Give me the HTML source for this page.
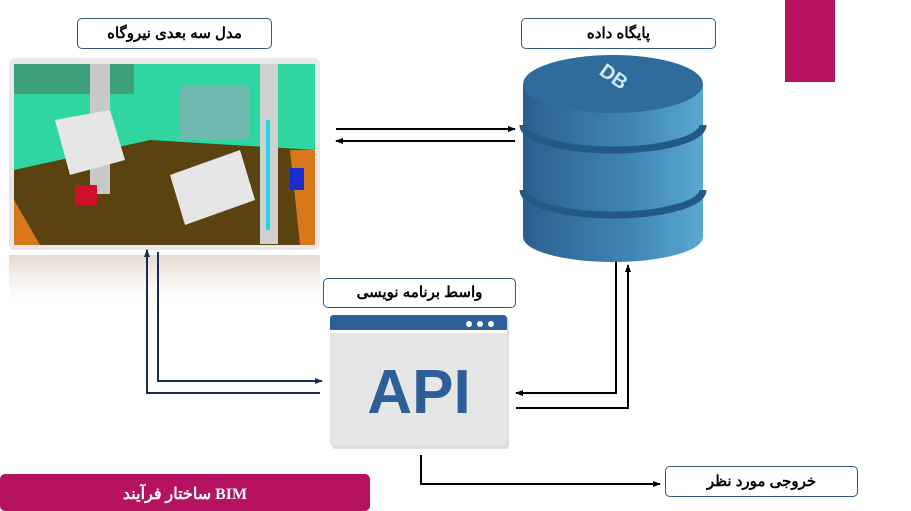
<!DOCTYPE html>
<html><head><meta charset="utf-8"><style>
body{margin:0;width:911px;height:511px;background:#fff;position:relative;overflow:hidden;font-family:"Liberation Sans","Noto Sans CJK SC",sans-serif}
.lbl{position:absolute;border:1px solid #2f5a84;border-radius:5px;background:#fff;text-align:center;font-weight:bold;font-size:15px;color:#000;box-sizing:border-box}
</style></head><body>
<svg width="911" height="511" style="position:absolute;left:0;top:0">
<defs>
<marker id="a" markerWidth="8" markerHeight="8" refX="7" refY="4" orient="auto" markerUnits="userSpaceOnUse"><path d="M0,1 L8,4 L0,7z" fill="#000"/></marker>
<marker id="b" markerWidth="8" markerHeight="8" refX="7" refY="4" orient="auto" markerUnits="userSpaceOnUse"><path d="M0,1 L8,4 L0,7z" fill="#1c2b55"/></marker>
<linearGradient id="cy" x1="0" x2="1"><stop offset="0" stop-color="#2a5f8e"/><stop offset="0.6" stop-color="#3f86b5"/><stop offset="1" stop-color="#5aa8d2"/></linearGradient>
<linearGradient id="rf" x1="0" y1="0" x2="0" y2="1"><stop offset="0" stop-color="#d8c9b8" stop-opacity=".7"/><stop offset="1" stop-color="#fff" stop-opacity="0"/></linearGradient>
</defs>
<rect x="785" y="0" width="50" height="82" fill="#b5135f"/>
<!-- plant image -->
<rect x="9" y="58" width="311" height="192" rx="6" fill="#e8e8e8"/>
<rect x="14" y="64" width="301" height="181" fill="#2fd6a2"/>
<polygon points="14,170 150,140 315,150 315,245 14,245" fill="#5a4310"/>
<polygon points="290,150 315,150 315,245 300,245" fill="#d9781a"/>
<polygon points="14,200 40,245 14,245" fill="#d9781a"/>
<rect x="14" y="64" width="120" height="30" fill="#3ea07a"/>
<rect x="90" y="64" width="20" height="130" fill="#c8c8c8"/>
<rect x="260" y="64" width="18" height="180" fill="#d0d0d0"/>
<rect x="266" y="120" width="4" height="110" fill="#26d6e6"/>
<polygon points="55,120 110,110 125,160 70,175" fill="#e6e6e6"/>
<polygon points="170,175 240,150 255,200 185,225" fill="#e6e6e6"/>
<rect x="180" y="85" width="70" height="55" fill="#9aa6b8" opacity=".6"/>
<rect x="75" y="185" width="22" height="20" fill="#d0102a"/>
<rect x="290" y="168" width="14" height="22" fill="#1a2bd0"/>
<rect x="9" y="255" width="311" height="60" fill="url(#rf)"/>
<!-- DB -->
<path d="M523,84 L523,237 A90,25 0 0 0 703,237 L703,84z" fill="url(#cy)"/>
<path d="M523,125 A90,25 0 0 0 703,125" fill="none" stroke="#235a85" stroke-width="7"/>
<path d="M523,190 A90,25 0 0 0 703,190" fill="none" stroke="#235a85" stroke-width="7"/>
<ellipse cx="613" cy="84" rx="90" ry="29" fill="#2f6c9c"/>
<text x="0" y="0" font-size="20" font-weight="bold" fill="#cfe6f5" text-anchor="middle" transform="translate(610,82) rotate(35)" font-family="Liberation Sans">DB</text>
<!-- arrows -->
<line x1="336" y1="129" x2="515" y2="129" stroke="#000" stroke-width="2" marker-end="url(#a)"/>
<line x1="515" y1="141" x2="336" y2="141" stroke="#000" stroke-width="2" marker-end="url(#a)"/>
<polyline points="320,393 147,393 147,250" fill="none" stroke="#1c2b55" stroke-width="2" marker-end="url(#b)"/>
<polyline points="158,252 158,381 322,381" fill="none" stroke="#1c2b55" stroke-width="2" marker-end="url(#b)"/>
<polyline points="616,262 616,393 516,393" fill="none" stroke="#000" stroke-width="2" marker-end="url(#a)"/>
<polyline points="516,408 628,408 628,265" fill="none" stroke="#000" stroke-width="2" marker-end="url(#a)"/>
<polyline points="421,455 421,484 660,484" fill="none" stroke="#000" stroke-width="2" marker-end="url(#a)"/>
<!-- API -->
<rect x="332" y="317" width="177" height="132" rx="4" fill="#bbb" opacity=".5"/>
<rect x="330" y="315" width="177" height="131" rx="4" fill="#e6e6e6"/>
<path d="M330,330 L330,319 Q330,315 334,315 L503,315 Q507,315 507,319 L507,330z" fill="#2f5f99"/>
<rect x="330" y="330" width="177" height="3" fill="#fff"/>
<circle cx="469" cy="324" r="3" fill="#fff"/><circle cx="480" cy="324" r="3" fill="#fff"/><circle cx="491" cy="324" r="3" fill="#fff"/>
<text x="419" y="413" font-size="62" font-weight="bold" fill="#2f5f99" text-anchor="middle" font-family="Liberation Sans">API</text>
<!-- bottom bar -->
<rect x="0" y="474" width="370" height="37" rx="5" fill="#b5135f"/>
<text x="185" y="499" font-size="16" font-weight="bold" fill="#fff" text-anchor="middle" font-family="Liberation Serif,'Noto Serif CJK SC',serif">ساختار فرآیند BIM</text>
</svg>
<div class="lbl" style="left:77px;top:18px;width:195px;height:31px;line-height:29px">مدل سه بعدی نیروگاه</div>
<div class="lbl" style="left:521px;top:18px;width:195px;height:31px;line-height:29px">پایگاه داده</div>
<div class="lbl" style="left:323px;top:278px;width:193px;height:30px;line-height:28px">واسط برنامه نویسی</div>
<div class="lbl" style="left:665px;top:466px;width:193px;height:31px;line-height:29px">خروجی مورد نظر</div>
</body></html>
